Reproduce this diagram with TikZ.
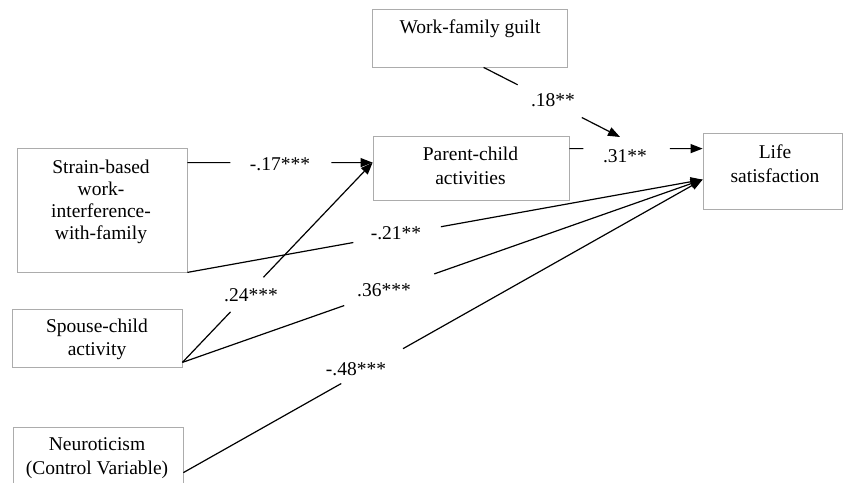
\documentclass[tikz,border=0pt]{standalone}
\usepackage{fontspec}
\setmainfont{Liberation Serif}
\usetikzlibrary{arrows.meta,calc,positioning}
\tikzset{
  varbox/.style={draw=gray!65, line width=0.8pt, inner sep=0pt},
  vartext/.style={align=center, inner sep=0pt, font=\fontsize{19.5}{23.5}\selectfont},
  coef/.style={inner sep=0pt, font=\fontsize{19.5}{23.5}\selectfont},
  link/.style={line width=1.2pt},
  linkarrow/.style={line width=1.2pt, -{Triangle[length=12pt, width=9pt]}}
}

\begin{document}
\begin{tikzpicture}[x=1pt, y=-1pt]
  \useasboundingbox (0,0) rectangle (843,482);

  % Variable boxes
  \node[varbox, minimum width=195pt, minimum height=58pt] (guilt) at (469.5,38) {};
  \node[varbox, minimum width=170pt, minimum height=124pt] (strain) at (102,210) {};
  \node[varbox, minimum width=196pt, minimum height=64pt] (parent) at (471,168) {};
  \node[varbox, minimum width=139pt, minimum height=76pt] (life) at (772.5,171) {};
  \node[varbox, minimum width=170pt, minimum height=58pt] (spouse) at (97,338) {};
  \node[varbox, minimum width=170pt, minimum height=70pt] (neuro) at (98,462) {};

  % Box texts
  \node[vartext] (guilttext) at (470,29) {Work-family guilt};
  \node[vartext, font=\fontsize{19.5}{22}\selectfont] (straintext) at (101,202) {Strain-based\\work-\\interference-\\with-family};
  \node[vartext] (parenttext) at (470.5,166) {Parent-child\\activities};
  \node[vartext] (lifetext) at (775,163.5) {Life\\satisfaction};
  \node[vartext] (spousetext) at (97,339.5) {Spouse-child\\activity};
  \node[vartext] (neurotext) at (97,458) {Neuroticism\\(Control Variable)};

  % End points on the boxes
  \coordinate (strainout) at ([yshift=-15pt]strain.north east);
  \coordinate (parentin) at ([yshift=-27pt]parent.north west);
  \coordinate (parentout) at ([yshift=-13pt]parent.north east);
  \coordinate (lifein) at ([yshift=-16pt]life.north west);
  \coordinate (lifelow) at ([yshift=-47pt]life.north west);
  \coordinate (guiltout) at ([xshift=112pt]guilt.south west);
  \coordinate (moderate) at (620,137);
  \coordinate (spouseout) at ([yshift=5pt]spouse.south east);
  \coordinate (neuroout) at ([yshift=-46pt]neuro.north east);

  % Strain-based WIF -> parent-child activities
  \draw[link] (strainout) -- ($(strainout)!0.232!(parentin)$);
  \draw[linkarrow] ($(strainout)!0.778!(parentin)$) -- (parentin);
  \node[coef] (c17) at (280,164) {-.17***};

  % Parent-child activities -> life satisfaction
  \draw[link] (parentout) -- ($(parentout)!0.104!(lifein)$);
  \draw[linkarrow] ($(parentout)!0.754!(lifein)$) -- (lifein);
  \node[coef] (c31) at (625,156) {.31**};

  % Guilt as moderator
  \draw[link] (guiltout) -- ($(guiltout)!0.25!(moderate)$);
  \draw[linkarrow] ($(guiltout)!0.72!(moderate)$) -- (moderate);
  \node[coef] (c18) at (553,100) {.18**};

  % Strain-based WIF -> life satisfaction
  \draw[link] (strain.south east) -- ($(strain.south east)!0.322!(lifelow)$);
  \draw[linkarrow] ($(strain.south east)!0.492!(lifelow)$) -- (lifelow);
  \node[coef] (c21) at (396,233) {-.21**};

  % Spouse-child activity -> parent-child activities
  \draw[link] (spouseout) -- ($(spouseout)!0.253!(parentin)$);
  \draw[linkarrow] ($(spouseout)!0.426!(parentin)$) -- (parentin);
  \node[coef] (c24) at (251,295) {.24***};

  % Spouse-child activity -> life satisfaction
  \draw[link] (spouseout) -- ($(spouseout)!0.311!(lifelow)$);
  \draw[linkarrow] ($(spouseout)!0.484!(lifelow)$) -- (lifelow);
  \node[coef] (c36) at (384,290) {.36***};

  % Neuroticism -> life satisfaction
  \draw[link] (neuroout) -- ($(neuroout)!0.304!(lifelow)$);
  \draw[linkarrow] ($(neuroout)!0.423!(lifelow)$) -- (lifelow);
  \node[coef] (c48) at (356,369) {-.48***};
\end{tikzpicture}
\end{document}
